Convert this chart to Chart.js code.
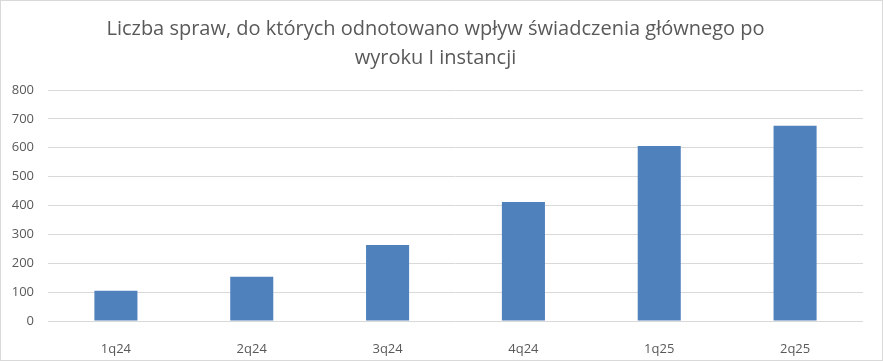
<!DOCTYPE html>
<html>
<head>
<meta charset="utf-8">
<script src="https://cdn.jsdelivr.net/npm/chart.js@4.4.1/dist/chart.umd.min.js"></script>
<style>
  html, body { margin: 0; padding: 0; background: #fff; }
  #wrap { position: relative; width: 881px; height: 359px; border: 1px solid #d9d9d9; }
</style>
</head>
<body>
<div id="wrap"><canvas id="myChart"></canvas></div>
<script>
const categories = ["1q24", "2q24", "3q24", "4q24", "1q25", "2q25"];
const cases = [105, 153, 263, 412, 606, 676];
const titleLines = ["Liczba spraw, do których odnotowano wpływ świadczenia głównego po", "wyroku I instancji"];

const fontFamily = "'Open Sans', sans-serif";
const textColor = "#595959";

const ctx = document.getElementById("myChart");
new Chart(ctx, {
  type: "bar",
  data: {
    labels: categories,
    datasets: [
      {
        data: cases,
        backgroundColor: "#4f81bd",
        borderWidth: 0,
        categoryPercentage: 1,
        barPercentage: 0.317,
      },
    ],
  },
  options: {
    responsive: true,
    maintainAspectRatio: false,
    animation: false,
    layout: {
      padding: { left: 7, right: 19, top: 0, bottom: 0 },
    },
    scales: {
      y: {
        min: 0,
        max: 800,
        ticks: {
          stepSize: 100,
          color: textColor,
          font: { family: fontFamily, size: 13 },
          padding: 14,
        },
        grid: {
          color: "#d9d9d9",
          drawTicks: false,
        },
        border: { display: false },
        afterFit: (scale) => { scale.width = 40; },
      },
      x: {
        ticks: {
          color: textColor,
          font: { family: fontFamily, size: 13 },
          padding: 12,
        },
        grid: { display: false },
        border: { display: false },
        afterFit: (scale) => { scale.height = 39; },
      },
    },
    plugins: {
      legend: { display: false },
      tooltip: { enabled: false },
      title: {
        display: true,
        text: titleLines,
        color: textColor,
        font: { family: fontFamily, size: 20, weight: "normal", lineHeight: 1.45 },
        padding: { top: 14, bottom: 17 },
      },
    },
  },
});
</script>
</body>
</html>
